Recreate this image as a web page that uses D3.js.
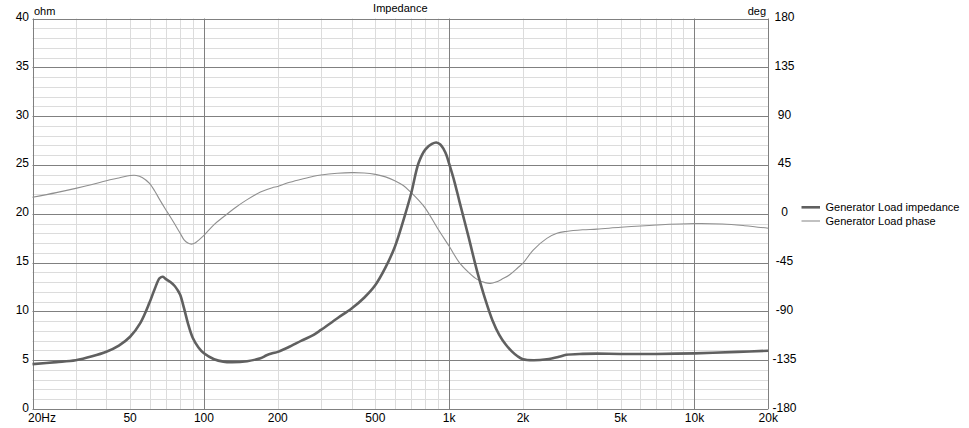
<!DOCTYPE html>
<html>
<head>
<meta charset="utf-8">
<script src="https://cdn.jsdelivr.net/npm/d3@7/dist/d3.min.js"></script>
<style>
  html, body { margin: 0; padding: 0; background: #fff; }
  svg text { font-family: "Liberation Sans", Arial, sans-serif; font-size: 11px; fill: #000; }
</style>
</head>
<body>
<svg id="chart" width="969" height="428"></svg>
<script>
// ---- data ----
const freqZ = [20,25,30,35,40,45,50,55,60,63,66,68,70,73,76,78,80,83,86,90,95,100,110,120,130,150,170,180,190,200,220,250,280,300,350,400,450,500,550,600,650,700,750,800,850,886,920,950,975,1000,1050,1100,1200,1300,1400,1500,1600,1700,1800,1900,2000,2200,2500,2800,3000,3500,4000,5000,7000,10000,15000,20000];
const impedance = [4.6,4.8,5.0,5.4,5.87,6.5,7.4,8.8,10.9,12.3,13.4,13.55,13.3,13.0,12.6,12.2,11.7,10.3,8.8,7.3,6.3,5.7,5.1,4.85,4.8,4.9,5.2,5.5,5.7,5.85,6.3,7.0,7.6,8.1,9.3,10.3,11.4,12.7,14.5,16.6,19.3,22.1,25.2,26.6,27.15,27.3,27.1,26.6,26.0,25.1,23.3,21.3,17.6,14.1,11.3,9.1,7.6,6.6,5.9,5.4,5.1,5.0,5.1,5.35,5.55,5.65,5.67,5.64,5.64,5.7,5.85,5.97];

const freqP = [20,25,30,35,40,45,50,53,56,60,63,66,70,73,76,80,83,86,89,92,95,100,110,120,135,150,170,190,200,220,250,280,300,350,400,450,500,550,600,650,700,750,800,900,1000,1100,1200,1300,1400,1470,1550,1650,1770,1900,2000,2200,2500,2750,3000,3500,4000,5000,7000,10000,13000,16000,20000];
const phase = [15.2,19.5,23.4,27,30.5,33,35.2,35.3,33.5,28,21,13,3.5,-3,-9.5,-18,-24,-27,-28,-27,-24.5,-20,-10,-3,6,13,20,24,25.2,28.5,31.8,34.5,35.7,37.3,37.9,37.6,36.3,34,30.5,26,19.5,12.5,5,-14,-30,-45,-54,-60.5,-63.5,-64.2,-63,-60,-56,-50,-45.5,-33.5,-22.7,-18,-16.3,-14.8,-14.2,-12.5,-10.4,-9.0,-9.4,-11,-13.4];

const xTickValues = [20,50,100,200,500,1000,2000,5000,10000,20000];
const xTickLabels = ["20Hz","50","100","200","500","1k","2k","5k","10k","20k"];
const yLeftTicks = [0,5,10,15,20,25,30,35,40];
const yRightTicks = [-180,-135,-90,-45,0,45,90,135,180];
const seriesNames = ["Generator Load impedance","Generator Load phase"];
const titleText = "Impedance";

// ---- layout ----
const L = 32.5, R = 768.3, T = 18.5, B = 409;
const svg = d3.select("#chart");
const x = d3.scaleLog().domain([20,20000]).range([L,R]);
const yZ = d3.scaleLinear().domain([0,40]).range([B,T]);
const yP = d3.scaleLinear().domain([-180,180]).range([B,T]);

const minorCol = "#dcdcdc", majorCol = "#808080";

const g = svg.append("g");
d3.range(1,40).filter(v => v % 5 !== 0).forEach(v => {
  g.append("line").attr("x1",L).attr("x2",R).attr("y1",Math.round(yZ(v))+0.5).attr("y2",Math.round(yZ(v))+0.5)
   .attr("stroke",minorCol).attr("stroke-width",1);
});
const minorF = [];
[10,100,1000,10000].forEach(d => { for (let k=2;k<=9;k++) { const f=k*d; if (f>20 && f<20000) minorF.push(f);} });
minorF.forEach(f => {
  g.append("line").attr("y1",T).attr("y2",B).attr("x1",Math.round(x(f))+0.5).attr("x2",Math.round(x(f))+0.5)
   .attr("stroke",minorCol).attr("stroke-width",1);
});
yLeftTicks.forEach(v => {
  g.append("line").attr("x1",L).attr("x2",R).attr("y1",Math.round(yZ(v))+0.5).attr("y2",Math.round(yZ(v))+0.5)
   .attr("stroke",majorCol).attr("stroke-width",1);
});
[20,100,1000,10000,20000].forEach(f => {
  g.append("line").attr("y1",T).attr("y2",B).attr("x1",Math.round(x(f))+0.5).attr("x2",Math.round(x(f))+0.5)
   .attr("stroke",majorCol).attr("stroke-width",1);
});

// curves
const lineZ = d3.line().x((d,i)=>x(freqZ[i])).y(d=>yZ(d)).curve(d3.curveCatmullRom.alpha(0.5));
const lineP = d3.line().x((d,i)=>x(freqP[i])).y(d=>yP(d)).curve(d3.curveCatmullRom.alpha(0.5));
svg.append("path").attr("d",lineP(phase)).attr("fill","none").attr("stroke","#8f8f8f").attr("stroke-width",1.1);
svg.append("path").attr("d",lineZ(impedance)).attr("fill","none").attr("stroke","#606060").attr("stroke-width",2.6);

// left axis labels
yLeftTicks.forEach(v => {
  svg.append("text").attr("x",29).attr("y",yZ(v)+2.5).attr("text-anchor","end").style("font-size","12px").text(v);
});
// right axis labels
yRightTicks.forEach(v => {
  svg.append("text").attr("x",784.5).attr("y",yP(v)+2.5).attr("text-anchor","middle").style("font-size","12px").text(v);
});
// x labels
xTickValues.forEach((f,i) => {
  const xx = i === 0 ? 28 : x(f);
  svg.append("text").attr("x",xx).attr("y",421.5).attr("text-anchor", i===0 ? "start" : "middle").style("font-size","12px").text(xTickLabels[i]);
});
// units & title
svg.append("text").attr("x",34).attr("y",15).text("ohm");
svg.append("text").attr("x",766).attr("y",15).attr("text-anchor","end").text("deg");
svg.append("text").attr("x",400.3).attr("y",11.5).attr("text-anchor","middle").text(titleText);

// legend
const leg = [{w:2.6,c:"#606060",y:207.3},{w:1.1,c:"#8f8f8f",y:221}];
leg.forEach((d,i) => {
  svg.append("line").attr("x1",801.5).attr("x2",820).attr("y1",d.y).attr("y2",d.y).attr("stroke",d.c).attr("stroke-width",d.w);
  svg.append("text").attr("x",825.5).attr("y",d.y+3.8).text(seriesNames[i]);
});
</script>
</body>
</html>
